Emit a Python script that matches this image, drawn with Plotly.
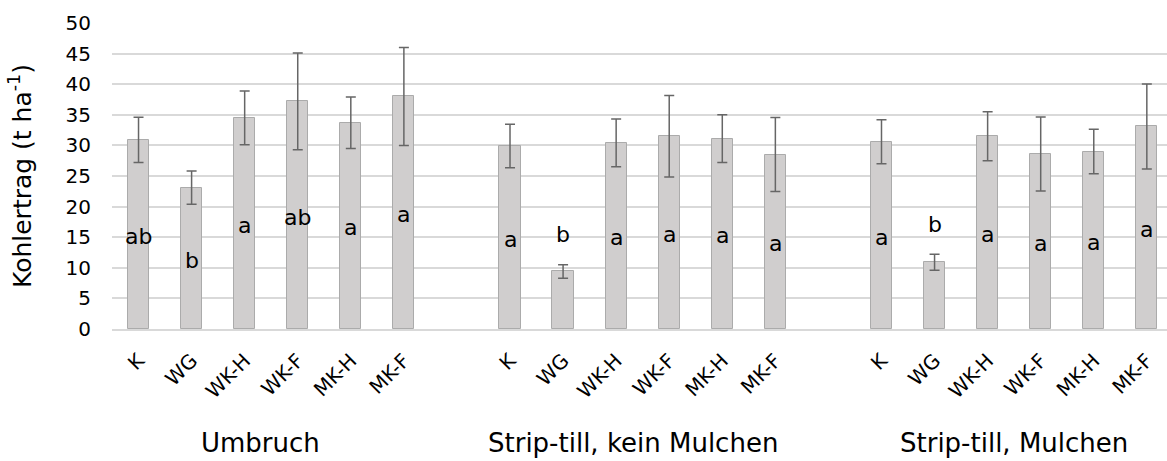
import plotly.graph_objects as go

# ---- data ----
categories = ["K", "WG", "WK-H", "WK-F", "MK-H", "MK-F"]
groups = ["Umbruch", "Strip-till, kein Mulchen", "Strip-till, Mulchen"]

umbruch_mean = [30.9, 23.1, 34.5, 37.2, 33.7, 38.0]
umbruch_err = [3.7, 2.7, 4.4, 7.9, 4.2, 8.0]
umbruch_letters = ["ab", "b", "a", "ab", "a", "a"]

stk_mean = [29.9, 9.4, 30.4, 31.5, 31.1, 28.5]
stk_err = [3.55, 1.1, 3.9, 6.65, 3.9, 6.05]
stk_letters = ["a", "b", "a", "a", "a", "a"]

stm_mean = [30.6, 10.9, 31.5, 28.6, 29.0, 33.1]
stm_err = [3.6, 1.3, 4.0, 6.05, 3.65, 6.95]
stm_letters = ["a", "b", "a", "a", "a", "a"]

group_means = [umbruch_mean, stk_mean, stm_mean]
group_errs = [umbruch_err, stk_err, stm_err]
group_letters = [umbruch_letters, stk_letters, stm_letters]

FONT = "DejaVu Sans"
slot = len(categories) + 1  # one empty slot between groups

xs, ys, es, letters, ticktext = [], [], [], [], []
for g in range(len(groups)):
    for i, c in enumerate(categories):
        xs.append(g * slot + i)
        ys.append(group_means[g][i])
        es.append(group_errs[g][i])
        letters.append(group_letters[g][i])
        ticktext.append(c)

fig = go.Figure()
fig.add_trace(go.Bar(
    x=xs, y=ys, width=0.4,
    marker=dict(color="#d0cece", line=dict(color="#ababab", width=1)),
    error_y=dict(type="data", array=es, visible=True, color="#666666",
                 thickness=1.5, width=5),
    hoverinfo="skip", showlegend=False,
))

annotations = []
for x, v, e, t in zip(xs, ys, es, letters):
    yy = v / 2 if v >= 15 else v + e + 5.2
    annotations.append(dict(x=x, y=yy, xref="x", yref="y", text=t, showarrow=False,
                            yshift=-2, font=dict(family=FONT, size=22, color="#000000")))

group_shift = [-11, -10, 0]
for g, name in enumerate(groups):
    center = g * slot + (len(categories) - 1) / 2
    annotations.append(dict(x=center, y=0, xref="x", yref="paper", text=name,
                            showarrow=False, yanchor="middle", yshift=-114,
                            xshift=group_shift[g],
                            font=dict(family=FONT, size=26, color="#000000")))

annotations.append(dict(x=0, y=0.5, xref="paper", yref="paper",
                        text="Kohlertrag (t ha<sup>-1</sup>)", textangle=-90,
                        showarrow=False, xanchor="center", yanchor="middle",
                        xshift=-92, font=dict(family=FONT, size=25, color="#000000")))

fig.update_layout(
    width=1167, height=461,
    margin=dict(l=112, r=0, t=23, b=132),
    plot_bgcolor="white", paper_bgcolor="white",
    font=dict(family=FONT, color="#000000"),
    annotations=annotations,
    bargap=0,
)
fig.update_xaxes(
    range=[-0.5, 19.38], tickmode="array", tickvals=xs, ticktext=ticktext,
    tickangle=-45, tickfont=dict(family=FONT, size=20, color="#000000"),
    showgrid=False, zeroline=False, showline=True, linecolor="#d9d9d9", linewidth=2,
    ticks="", ticklabelstandoff=10,
)
fig.update_yaxes(
    range=[0, 50], dtick=5, showgrid=True, gridcolor="#d9d9d9", gridwidth=1.5,
    zeroline=False, showline=False, ticks="",
    tickfont=dict(family=FONT, size=20, color="#000000"),
    ticklabelstandoff=20,
)

fig.write_html("out.html", config={"displayModeBar": False},
               post_script="document.body.style.margin='0';document.body.style.overflow='hidden';")
